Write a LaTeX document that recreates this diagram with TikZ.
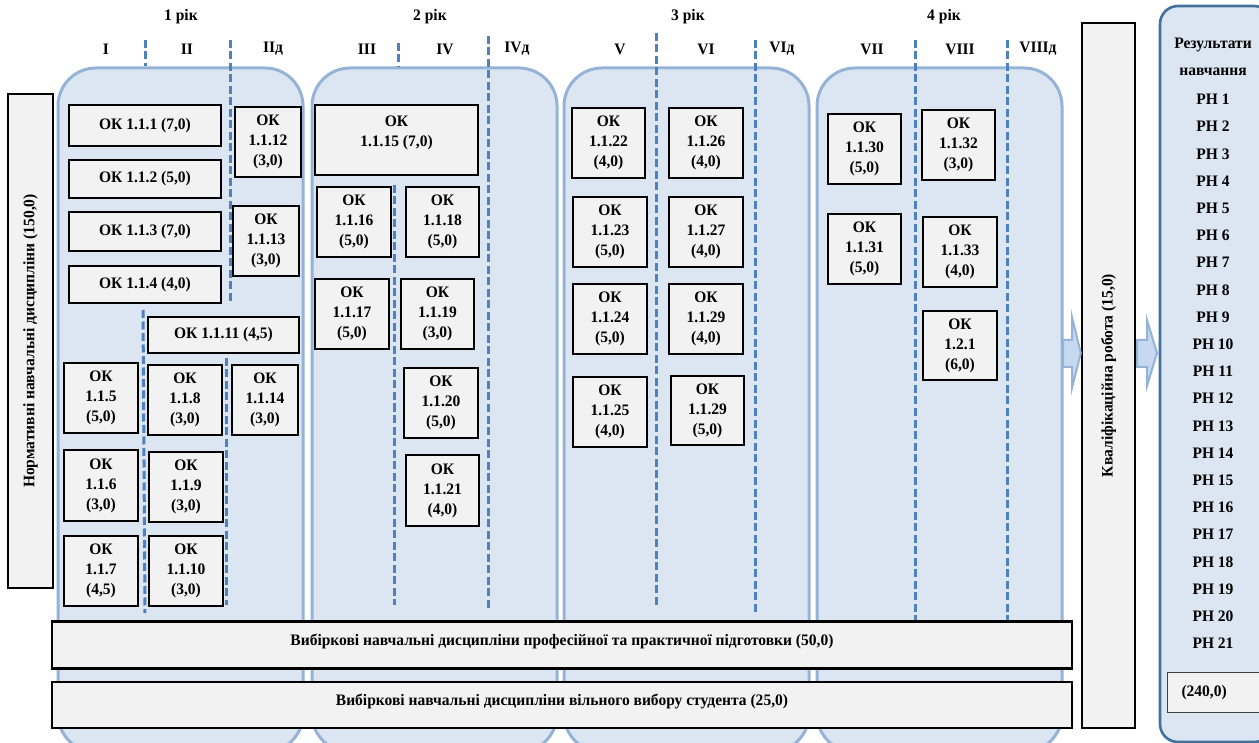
\documentclass[tikz,border=0pt]{standalone}
\usepackage{fontspec}
\setmainfont{Liberation Serif}[FakeStretch=0.97]
\definecolor{panelfill}{HTML}{DCE6F2}
\definecolor{panelline}{HTML}{95B3D7}
\definecolor{semline}{HTML}{4F81BD}
\definecolor{boxgray}{HTML}{F2F2F2}
\definecolor{resline}{HTML}{41719C}
\definecolor{arrowfill}{HTML}{C6D9F1}
\newcommand{\okb}[6]{\node[okbox, minimum width={#4-#2}, minimum height={#5-#3}] (#1) at ({(#2+#4)/2},{(#3+#5)/2}) {#6};}
\begin{document}
\begin{tikzpicture}[x=1pt,y=-1pt,
  every node/.style={font=\fontsize{16}{20}\selectfont\bfseries},
  okbox/.style={draw=black, line width=2.4pt, fill=boxgray, align=center, inner sep=0pt},
  panel/.style={draw=panelline, line width=3pt, fill=panelfill, rounded corners=38pt},
  respanel/.style={draw=resline, line width=2.6pt, fill=panelfill, rounded corners=18pt},
  sem/.style={draw=semline, line width=3pt, dash pattern=on 8pt off 3.5pt},
  blockarrow/.style={draw=panelline, line width=2pt, fill=arrowfill, line join=miter},
  totbox/.style={draw=black!75, line width=1pt, fill=boxgray},
  lbl/.style={inner sep=0pt}
]
\useasboundingbox (0,0) rectangle (1259,743);
\fill[white] (0,0) rectangle (1259,743);
\clip (0,0) rectangle (1259,743);

% year panels
\draw[panel] (58,68) rectangle (303,752);
\draw[panel] (312,68) rectangle (557,752);
\draw[panel] (564,68) rectangle (809,752);
\draw[panel] (817,68) rectangle (1062,752);

% headers
\node[lbl] (y1) at (181,17) {1 рік};
\node[lbl] (y2) at (430,17) {2 рік};
\node[lbl] (y3) at (688,17) {3 рік};
\node[lbl] (y4) at (944,17) {4 рік};
\node[lbl] (s1) at (106,49) {I};
\node[lbl] (s2) at (187,49) {II};
\node[lbl] (s2d) at (273,49) {IIд};
\node[lbl] (s3) at (367,49) {III};
\node[lbl] (s4) at (445,49) {IV};
\node[lbl] (s4d) at (517,49) {IVд};
\node[lbl] (s5) at (620,49) {V};
\node[lbl] (s6) at (706,49) {VI};
\node[lbl] (s6d) at (782,49) {VIд};
\node[lbl] (s7) at (872,49) {VII};
\node[lbl] (s8) at (960,49) {VIII};
\node[lbl] (s8d) at (1038,49) {VIIIд};

% semester dividers
\draw[sem] (145,40) -- (145,66);
\draw[sem] (143,310) -- (145,613);
\draw[sem] (230,40) -- (230,302);
\draw[sem] (226,358) -- (226,605);
\draw[sem] (398,43) -- (398,67);
\draw[sem] (394,185) -- (394,605);
\draw[sem] (488,36) -- (488,608);
\draw[sem] (656,33) -- (656,606);
\draw[sem] (755,40) -- (755,612);
\draw[sem] (915,40) -- (915,620);
\draw[sem] (1007,40) -- (1007,620);

% left vertical box
\node[okbox, rotate=90, minimum width=494, minimum height=45] (norm) at (30.5,341) {Нормативні навчальні дисципліни (150,0)};

% year 1
\okb{ok111}{69}{105}{221}{146}{ОК 1.1.1 (7,0)}
\okb{ok112}{69}{160}{221}{198}{ОК 1.1.2 (5,0)}
\okb{ok113}{69}{212}{221}{251}{ОК 1.1.3 (7,0)}
\okb{ok114}{69}{266}{221}{303}{ОК 1.1.4 (4,0)}
\okb{ok1112}{235}{107}{301}{177}{ОК\\1.1.12\\(3,0)}
\okb{ok1113}{233}{206}{299}{276}{ОК\\1.1.13\\(3,0)}
\okb{ok1111}{148}{317}{299}{353}{ОК 1.1.11 (4,5)}
\okb{ok115}{64}{363}{138}{433}{ОК\\1.1.5\\(5,0)}
\okb{ok118}{148}{365}{222}{435}{ОК\\1.1.8\\(3,0)}
\okb{ok1114}{232}{365}{298}{435}{ОК\\1.1.14\\(3,0)}
\okb{ok116}{64}{450}{138}{521}{ОК\\1.1.6\\(3,0)}
\okb{ok119}{149}{452}{223}{522}{ОК\\1.1.9\\(3,0)}
\okb{ok117}{64}{536}{138}{606}{ОК\\1.1.7\\(4,5)}
\okb{ok1110}{149}{536}{223}{606}{ОК\\1.1.10\\(3,0)}

% year 2
\node[okbox, minimum width=163, minimum height=70,
  label={[align=center, yshift=7pt]center:ОК\\1.1.15 (7,0)}] (ok1115) at (396.5,140) {};
\okb{ok1116}{317}{187}{391}{257}{ОК\\1.1.16\\(5,0)}
\okb{ok1118}{406}{187}{479}{257}{ОК\\1.1.18\\(5,0)}
\okb{ok1117}{315}{279}{389}{349}{ОК\\1.1.17\\(5,0)}
\okb{ok1119}{401}{279}{474}{349}{ОК\\1.1.19\\(3,0)}
\okb{ok1120}{404}{368}{478}{438}{ОК\\1.1.20\\(5,0)}
\okb{ok1121}{406}{455}{479}{526}{ОК\\1.1.21\\(4,0)}

% year 3
\okb{ok1122}{572}{108}{645}{178}{ОК\\1.1.22\\(4,0)}
\okb{ok1126}{669}{108}{743}{178}{ОК\\1.1.26\\(4,0)}
\okb{ok1123}{573}{197}{647}{267}{ОК\\1.1.23\\(5,0)}
\okb{ok1127}{669}{197}{743}{267}{ОК\\1.1.27\\(4,0)}
\okb{ok1124}{573}{284}{647}{354}{ОК\\1.1.24\\(5,0)}
\okb{ok1129a}{669}{284}{743}{354}{ОК\\1.1.29\\(4,0)}
\okb{ok1125}{573}{377}{647}{447}{ОК\\1.1.25\\(4,0)}
\okb{ok1129b}{671}{376}{744}{445}{ОК\\1.1.29\\(5,0)}

% year 4
\okb{ok1130}{828}{114}{901}{184}{ОК\\1.1.30\\(5,0)}
\okb{ok1132}{922}{110}{995}{180}{ОК\\1.1.32\\(3,0)}
\okb{ok1131}{828}{214}{901}{284}{ОК\\1.1.31\\(5,0)}
\okb{ok1133}{923}{217}{997}{287}{ОК\\1.1.33\\(4,0)}
\okb{ok121}{923}{311}{997}{380}{ОК\\1.2.1\\(6,0)}

% bottom bands
\node[okbox, minimum width=1020, minimum height=47,
  label={[yshift=4pt]center:Вибіркові навчальні дисципліни професійної та практичної підготовки (50,0)}] (band1) at (562,645) {};
\node[okbox, minimum width=1020, minimum height=46,
  label={[yshift=4pt]center:Вибіркові навчальні дисципліни вільного вибору студента (25,0)}] (band2) at (562,705) {};

% qualification work
\node[okbox, rotate=90, minimum width=705, minimum height=53] (kval) at (1108.5,375.5) {Кваліфікаційна робота (15,0)};

% block arrows
\draw[blockarrow] (1063,340) -- (1072,340) -- (1072,317) -- (kval.north |- 0,353) -- (1072,388) -- (1072,367) -- (1063,367) -- cycle;
\draw[blockarrow] (1137,340) -- (1147,340) -- (1147,320) -- (1157,353) -- (1147,386) -- (1147,367) -- (1137,367) -- cycle;

% results panel
\draw[respanel] (1160,6) rectangle (1272,742);
\node[lbl] (rt1) at (1213,45) {Результати};
\node[lbl] (rt2) at (1213,72.2) {навчання};
\foreach \k in {1,...,21} {
  \node[lbl] (rn\k) at (1213,{99.4+(\k-1)*27.2}) {РН \k};
}
\node[totbox, anchor=north west, minimum height=40, text width=89pt, inner xsep=14pt, inner ysep=0pt, align=left] (total) at (1167,672) {(240,0)};
\end{tikzpicture}
\end{document}
